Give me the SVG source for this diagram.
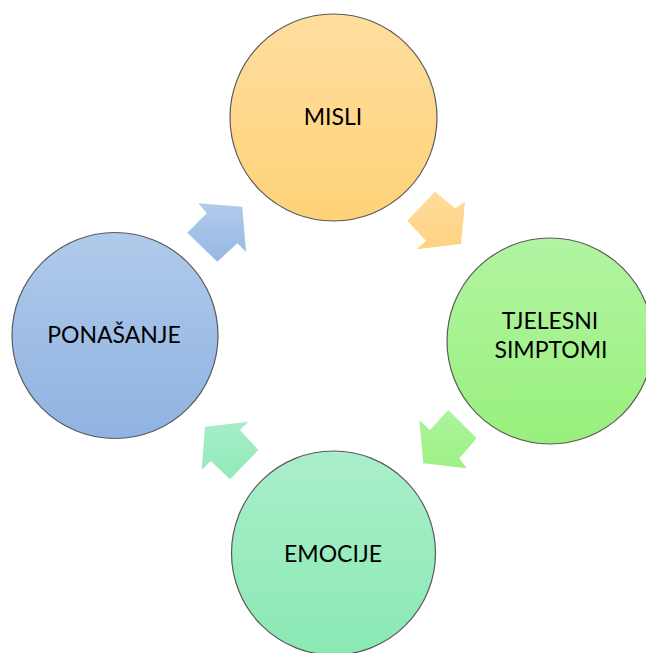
<svg xmlns="http://www.w3.org/2000/svg" width="646" height="653" viewBox="0 0 646 653">
<defs>
<linearGradient id="gO" x1="0" y1="0" x2="0" y2="1"><stop offset="0" stop-color="#FEDE9F"/><stop offset="1" stop-color="#FFD278"/></linearGradient>
<linearGradient id="gG" x1="0" y1="0" x2="0" y2="1"><stop offset="0" stop-color="#B2F4A2"/><stop offset="1" stop-color="#98F07C"/></linearGradient>
<linearGradient id="gT" x1="0" y1="0" x2="0" y2="1"><stop offset="0" stop-color="#AAEECB"/><stop offset="1" stop-color="#8AE9B3"/></linearGradient>
<linearGradient id="gB" x1="0" y1="0" x2="0" y2="1"><stop offset="0" stop-color="#B0CAEA"/><stop offset="1" stop-color="#8FB3E2"/></linearGradient>
<linearGradient id="aO" x1="0" y1="0" x2="0" y2="1"><stop offset="0" stop-color="#FFDC9C"/><stop offset="1" stop-color="#FFD281"/></linearGradient>
<linearGradient id="aG" x1="0" y1="0" x2="0" y2="1"><stop offset="0" stop-color="#ADF49C"/><stop offset="1" stop-color="#9CF183"/></linearGradient>
<linearGradient id="aT" x1="0" y1="0" x2="0" y2="1"><stop offset="0" stop-color="#A7EDC8"/><stop offset="1" stop-color="#91EABA"/></linearGradient>
<linearGradient id="aB" x1="0" y1="0" x2="0" y2="1"><stop offset="0" stop-color="#B1CBEB"/><stop offset="1" stop-color="#96B8E4"/></linearGradient>
</defs>
<style>
.c{stroke:#5a5a5a;stroke-width:1.2}
.t{font-family:Lato,"Open Sans","Liberation Sans",sans-serif;font-size:23px;fill:#000;text-anchor:middle}
</style>
<g id="connectors">
<polygon fill="url(#aB)" points="198.3,203.3 242.3,206.7 246,251.7 237.3,243.3 217.3,261.7 187.3,232.7 206.7,213.3"/>
<polygon fill="url(#aO)" points="435,191.7 455,208.3 465,201.7 461,244 416.7,249.3 426,240.7 407.3,220.7"/>
<polygon fill="url(#aG)" points="448.3,410 476.7,438.3 459.3,458.3 466.7,468.3 423.3,463.3 419.3,420 430,430"/>
<polygon fill="url(#aT)" points="205,426.7 248.3,421.7 240,430 258.3,450 230,479.3 210.7,461 201.7,470"/>
</g>
<g id="misli">
<circle class="c" cx="333.5" cy="117.5" r="103.5" fill="url(#gO)"/>
<text class="t" x="333" y="125">MISLI</text>
</g>
<g id="tjelesni-simptomi">
<circle class="c" cx="550" cy="341" r="103" fill="url(#gG)"/>
<text class="t" x="550" y="329">TJELESNI</text>
<text class="t" x="551" y="358">SIMPTOMI</text>
</g>
<g id="emocije">
<circle class="c" cx="333.5" cy="553" r="102" fill="url(#gT)"/>
<text class="t" x="333" y="562">EMOCIJE</text>
</g>
<g id="ponasanje">
<circle class="c" cx="115" cy="335.5" r="103" fill="url(#gB)"/>
<text class="t" x="114" y="343">PONAŠANJE</text>
</g>
</svg>
